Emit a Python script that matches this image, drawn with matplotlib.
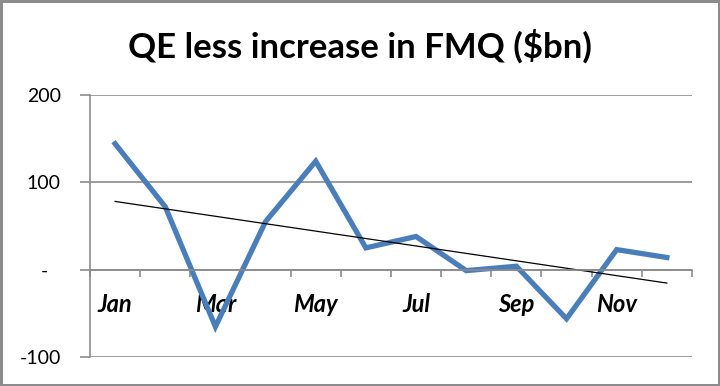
import matplotlib
matplotlib.use("Agg")
import matplotlib.pyplot as plt
import matplotlib.transforms as mtransforms
import numpy as np

months = ["Jan", "Feb", "Mar", "Apr", "May", "Jun",
          "Jul", "Aug", "Sep", "Oct", "Nov", "Dec"]
qe_less_fmq = [144, 72, -65, 55, 124, 25, 38, -1, 4, -56, 23, 14]
y_ticks = [-100, 0, 100, 200]
y_tick_labels = ["-100", "-", "100", "200"]

plt.rcParams["font.family"] = ["Lato", "DejaVu Sans"]

fig = plt.figure(figsize=(7.2, 3.86), dpi=100)
fig.patch.set_edgecolor("#8c8c8c")
fig.patch.set_linewidth(2.5)
ax = fig.add_axes([0.125, 0.0744, 0.836, 0.6803])

# spines first: moving the bottom spine resets the x ticks
ax.spines["bottom"].set_position(("data", 0))
for side in ("bottom", "left"):
    ax.spines[side].set_color("#8c8c8c")
    ax.spines[side].set_linewidth(1.2)
ax.spines["top"].set_visible(False)
ax.spines["right"].set_visible(False)

x = np.arange(len(months))
ax.plot(x, qe_less_fmq, color="#4a7ebb", linewidth=3.8, solid_joinstyle="miter", zorder=2)

# linear trendline, as Excel draws it
slope, intercept = np.polyfit(x, qe_less_fmq, 1)
ax.plot(x, slope * x + intercept, color="black", linewidth=0.9, zorder=2.2)

ax.set_xlim(-0.5, len(months) - 0.5)
ax.set_ylim(-100, 200)

ax.set_yticks(y_ticks)
ax.set_yticklabels(y_tick_labels, fontsize=14)
ax.yaxis.grid(True, color="#8c8c8c", linewidth=1.2)
ax.tick_params(axis="y", length=7, width=1.2, color="#8c8c8c", pad=14)

# Excel's accounting format leaves the zero dash short of the right edge
dash = ax.get_yticklabels()[y_ticks.index(0)]
dash.set_transform(dash.get_transform()
                   + mtransforms.ScaledTranslation(-0.13, 0, fig.dpi_scale_trans))

ax.set_xticks(np.arange(-0.5, len(months)))
ax.set_xticklabels([])
ax.tick_params(axis="x", which="major", length=5, width=1.2, color="#8c8c8c", direction="out")
ax.set_xticks(x[::2], minor=True)
ax.set_xticklabels(months[::2], minor=True, fontsize=17, fontweight="bold", fontstyle="italic")
ax.tick_params(axis="x", which="minor", length=0, pad=17)

fig.text(0.5, 0.88, "QE less increase in FMQ ($bn)", ha="center", va="center",
         fontsize=25, fontweight="bold")

fig.savefig("out.png", dpi=100, edgecolor=fig.get_edgecolor())
